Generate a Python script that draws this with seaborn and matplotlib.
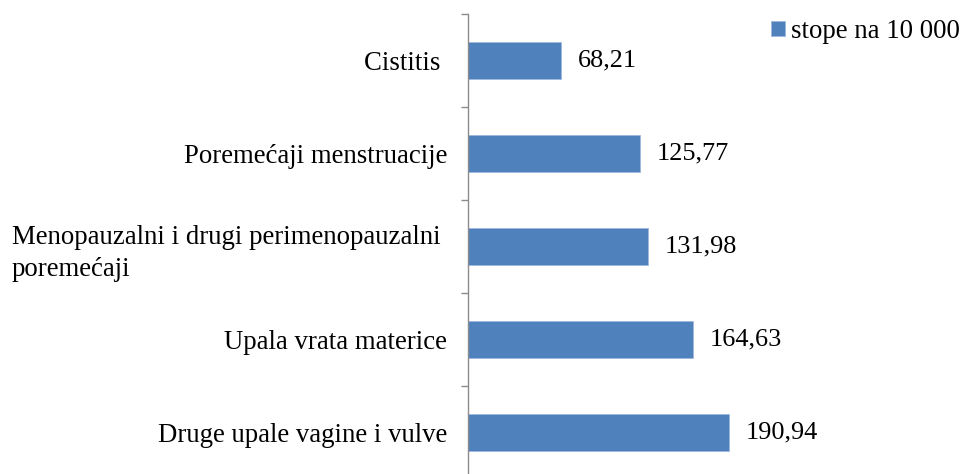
import matplotlib
matplotlib.use('Agg')
import matplotlib.pyplot as plt
import seaborn as sns
import pandas as pd

# data
categories = ['Cistitis ',
              'Poremećaji menstruacije',
              'Menopauzalni i drugi perimenopauzalni \nporemećaji',
              'Upala vrata materice',
              'Druge upale vagine i vulve']
values = [68.21, 125.77, 131.98, 164.63, 190.94]
series_name = 'stope na 10 000'

df = pd.DataFrame({'kategorija': categories, 'stopa': values})

sns.set_style('white')
plt.rcParams['font.family'] = ['Liberation Serif', 'DejaVu Serif']
plt.rcParams['text.color'] = 'black'
plt.rcParams['ytick.labelcolor'] = 'black'

fig = plt.figure(figsize=(9.62, 4.74), dpi=100)
ax = fig.add_axes([468 / 962, -5 / 474, 1 - 468 / 962, 465 / 474])

sns.barplot(data=df, x='stopa', y='kategorija', orient='h', color='#4F81BD',
            saturation=1, width=0.4, edgecolor='#9DB9DD', linewidth=0.6,
            label=series_name, ax=ax)

ax.set_xlim(0, (962 - 468) / 1.367)
ax.set_ylim(4.5, -0.5)
ax.set_xlabel('')
ax.set_ylabel('')
ax.set_xticks([])

# value labels
for i, v in enumerate(values):
    ax.text(v + 12, i, f'{v:.2f}'.replace('.', ','), va='center', ha='left',
            fontsize=18.9, color='black')

# category labels and ticks between categories
ax.set_yticks(range(len(categories)), labels=categories, multialignment='left', linespacing=1.4)
ax.tick_params(axis='y', which='major', left=True, length=0, pad=15, labelsize=19.3,
               labelcolor='black')
ax.set_yticks([i - 0.5 for i in range(6)], minor=True)
ax.tick_params(axis='y', which='minor', left=True, length=5, width=1.0, color='#8C8C8C')

for s in ['top', 'right', 'bottom']:
    ax.spines[s].set_visible(False)
ax.spines['left'].set_color('#8C8C8C')
ax.spines['left'].set_linewidth(1.0)

leg = ax.legend(loc='upper left', bbox_to_anchor=(771 / 962, 1 - 19 / 474),
                bbox_transform=fig.transFigure, frameon=False, fontsize=19.3,
                handlelength=0.52, handleheight=0.52, handletextpad=0.22,
                borderaxespad=0, borderpad=0, labelcolor='black')

fig.savefig('out.png', dpi=100)
